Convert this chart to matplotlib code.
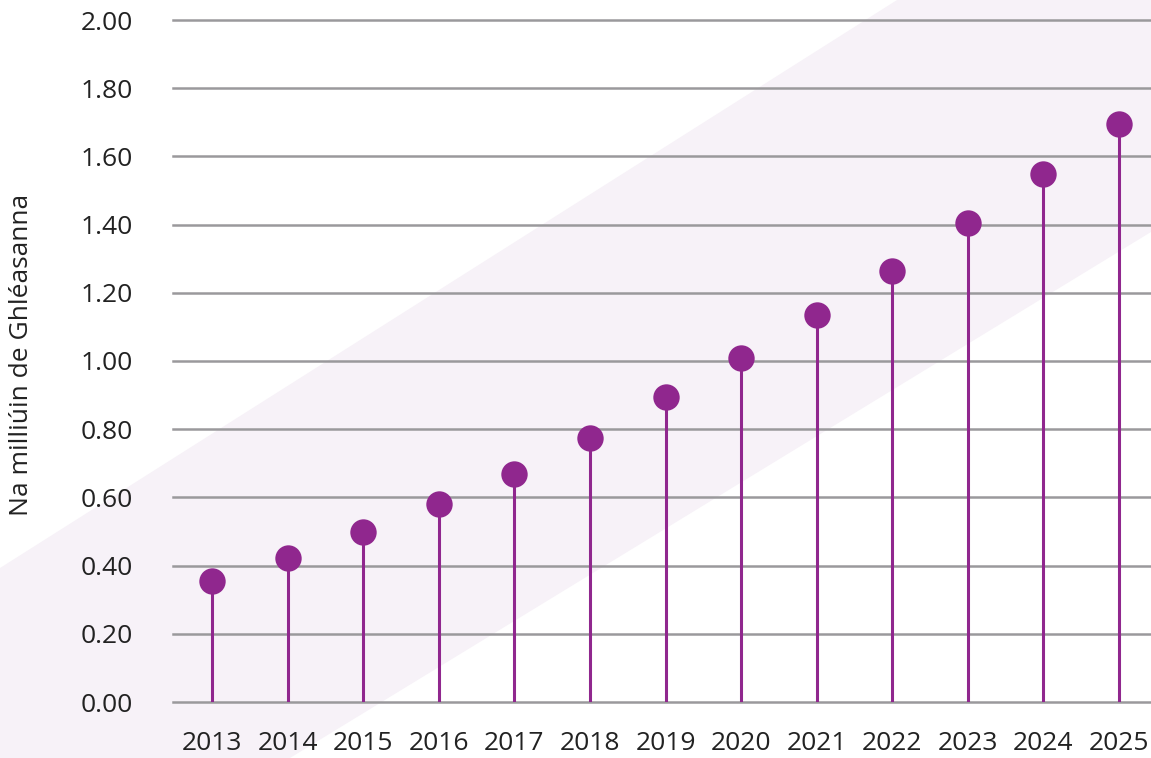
import matplotlib.pyplot as plt
from matplotlib.patches import Polygon

years = [2013, 2014, 2015, 2016, 2017, 2018, 2019, 2020, 2021, 2022, 2023, 2024, 2025]
devices = [0.355, 0.422, 0.50, 0.58, 0.67, 0.775, 0.895, 1.01, 1.135, 1.265, 1.405, 1.548, 1.695]
yticks = [0.0, 0.2, 0.4, 0.6, 0.8, 1.0, 1.2, 1.4, 1.6, 1.8, 2.0]
ylabel = 'Na milliúin de Ghléasanna'

purple = '#90278e'
grid_col = '#9a999c'
band_col = '#f7f2f8'
text_col = '#222222'

plt.rcParams['font.family'] = ['Open Sans', 'DejaVu Sans']

W, H = 1151, 758
fig = plt.figure(figsize=(W / 100, H / 100), dpi=100)

# background axes for the diagonal band, in pixel units
bg = fig.add_axes([0, 0, 1, 1], zorder=0)
bg.set_xlim(0, W)
bg.set_ylim(H, 0)
bg.axis('off')
band = [(0, 568), (897, 0), (W, 0), (W, 232), (290, H), (0, H)]
bg.add_patch(Polygon(band, closed=True, facecolor=band_col, edgecolor='none'))

ax = fig.add_axes([173 / W, 1 - 702 / H, 1 - 173 / W, (702 - 20) / H], zorder=1)
ax.patch.set_alpha(0)

for v in yticks:
    ax.axhline(v, color=grid_col, lw=1.8, zorder=1, clip_on=False)

ax.vlines(years, 0, devices, color=purple, lw=2.2, zorder=2)
ax.plot(years, devices, 'o', color=purple, ms=19, mec='none', zorder=3)

ax.set_ylim(0, 2)
ax.set_xlim(years[0] - 0.516, years[-1] + 0.423)
ax.set_yticks(yticks)
ax.set_yticklabels(['%.2f' % v for v in yticks])
ax.set_xticks(years)
ax.set_xticklabels([str(y) for y in years])
ax.tick_params(axis='both', length=0, labelsize=19, colors=text_col)
ax.tick_params(axis='y', pad=29)
ax.tick_params(axis='x', pad=21)
for s in ax.spines.values():
    s.set_visible(False)

fig.text(22 / W, 1 - 355 / H, ylabel, rotation=90, ha='center', va='center',
         fontsize=19, color=text_col)

fig.savefig('out.png', dpi=100)
